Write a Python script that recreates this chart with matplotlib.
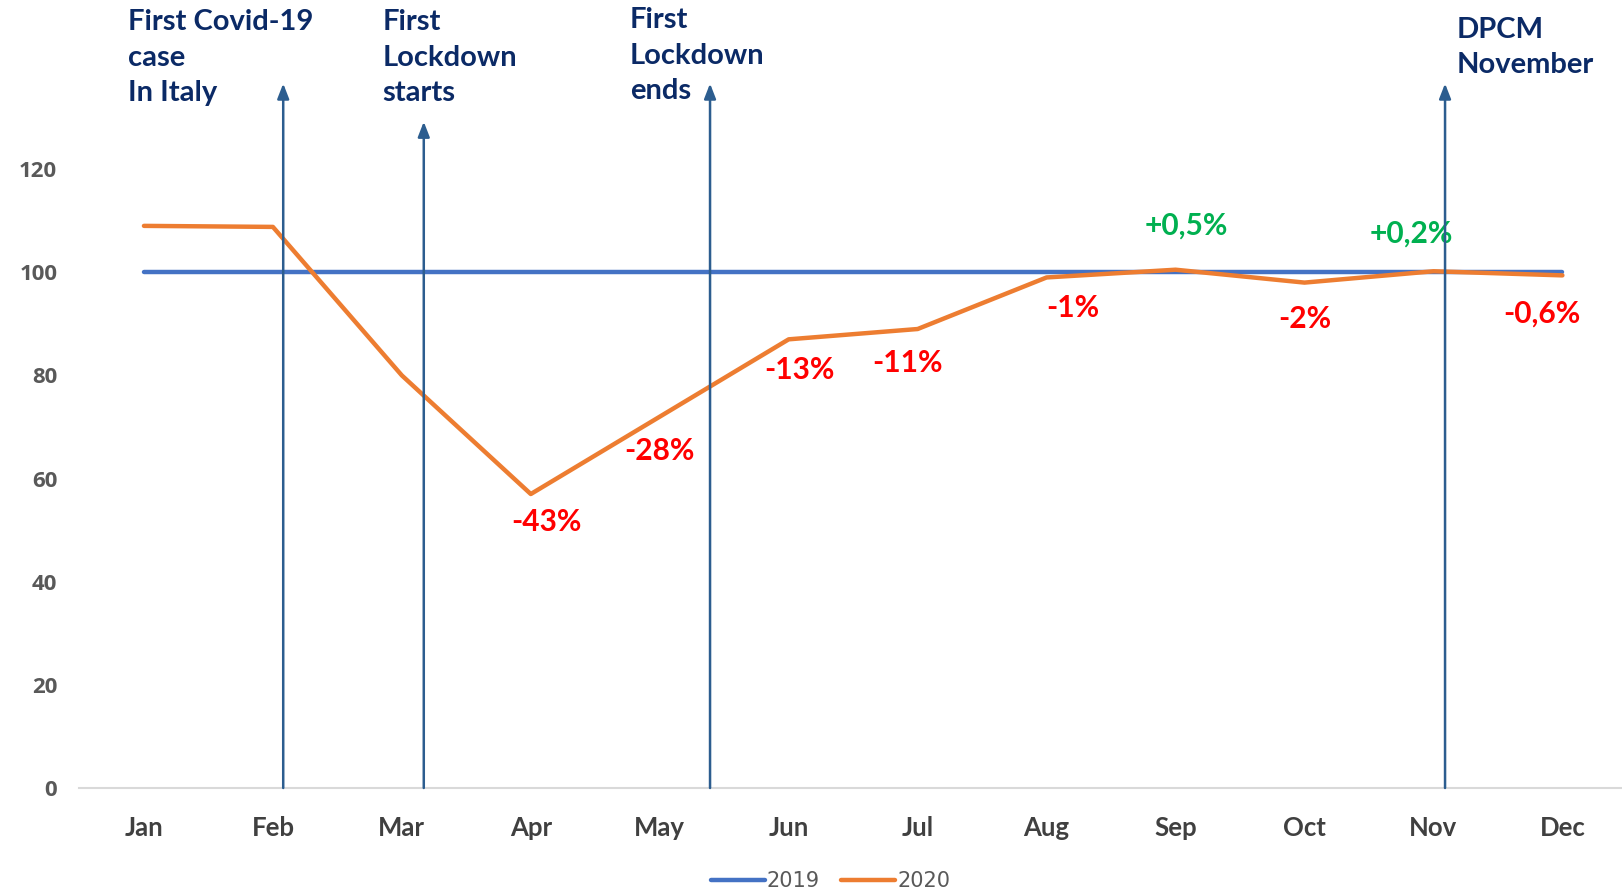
import matplotlib
matplotlib.use("Agg")
import matplotlib.pyplot as plt

# data
months = ["Jan", "Feb", "Mar", "Apr", "May", "Jun", "Jul", "Aug", "Sep", "Oct", "Nov", "Dec"]
values_2019 = [100] * 12
values_2020 = [109, 108.8, 80, 57, 72, 87, 89, 99, 100.5, 98, 100.2, 99.4]
pct_labels = ["", "", "", "-43%", "-28%", "-13%", "-11%", "-1%", "+0,5%", "-2%", "+0,2%", "-0,6%"]
# label positions (x in months, y in index units)
pct_pos = [None, None, None, (3.12, 51.5), (4.0, 65.3), (5.08, 81), (5.92, 82.5),
           (7.2, 93), (8.08, 109), (9.0, 91), (9.83, 107.5), (10.84, 92)]
yticks = [0, 20, 40, 60, 80, 100, 120]

events = ["First Covid-19\ncase\nIn Italy", "First\nLockdown\nstarts", "First\nLockdown\nends", "DPCM\nNovember"]
event_x = [1.08, 2.17, 4.39, 10.09]
event_top = [136.6, 129.2, 136.6, 136.6]
event_text_pos = [(-0.12, 151.0), (1.85, 151.0), (3.77, 151.4), (10.18, 149.6)]

BLUE = "#4472C4"
ORANGE = "#ED7D31"
NAVY = "#0B2A66"
ARROW = "#2C5D8F"

fig = plt.figure(figsize=(16.22, 8.93), dpi=100)
ax = fig.add_axes([0.049, 0.1176, 0.954, 0.8824])
x = list(range(len(months)))

ax.plot(x, values_2019, color=BLUE, lw=3.2, solid_capstyle="round", label="2019", zorder=3)
ax.plot(x, values_2020, color=ORANGE, lw=3.2, solid_capstyle="round", label="2020", zorder=3)

for xe, top in zip(event_x, event_top):
    ax.annotate("", xy=(xe, top), xytext=(xe, 0),
                arrowprops=dict(arrowstyle="-|>,head_width=0.35,head_length=0.9",
                                color=ARROW, lw=1.8, shrinkA=0, shrinkB=0),
                zorder=4, annotation_clip=False)

for txt, (tx, ty) in zip(events, event_text_pos):
    ax.text(tx, ty, txt, color=NAVY, fontsize=21, fontweight="bold", family="Lato",
            ha="left", va="top", linespacing=1.45)

for i, lab in enumerate(pct_labels):
    if not lab:
        continue
    c = "#00B050" if lab.startswith("+") else "#FF0000"
    px, py = pct_pos[i]
    ax.text(px, py, lab, color=c, fontsize=21.5, fontweight="bold", family="Lato",
            ha="center", va="center")

ax.set_xlim(-0.5, 11.5)
ax.set_ylim(0, 152.8)
ax.set_yticks(yticks)
ax.set_yticklabels([str(v) for v in yticks], fontsize=16, fontweight="bold",
                   color="#595959", family="Open Sans")
ax.set_xticks(x)
ax.set_xticklabels(months, fontsize=18.5, fontweight="bold", color="#404040", family="Lato")
ax.tick_params(axis="both", length=0)
ax.tick_params(axis="x", pad=20)
ax.tick_params(axis="y", pad=16)
for s in ["top", "right", "left"]:
    ax.spines[s].set_visible(False)
ax.spines["bottom"].set_color("#D9D9D9")
ax.spines["bottom"].set_linewidth(1.5)

leg = fig.legend(loc="center", bbox_to_anchor=(0.512, 0.013), ncol=2, frameon=False,
                 handlelength=2.6, handletextpad=0.1, columnspacing=1.0,
                 prop={"family": ["Liberation Sans Narrow", "DejaVu Sans"], "size": 15})
for t in leg.get_texts():
    t.set_color("#595959")

fig.savefig("out.png", dpi=100)
